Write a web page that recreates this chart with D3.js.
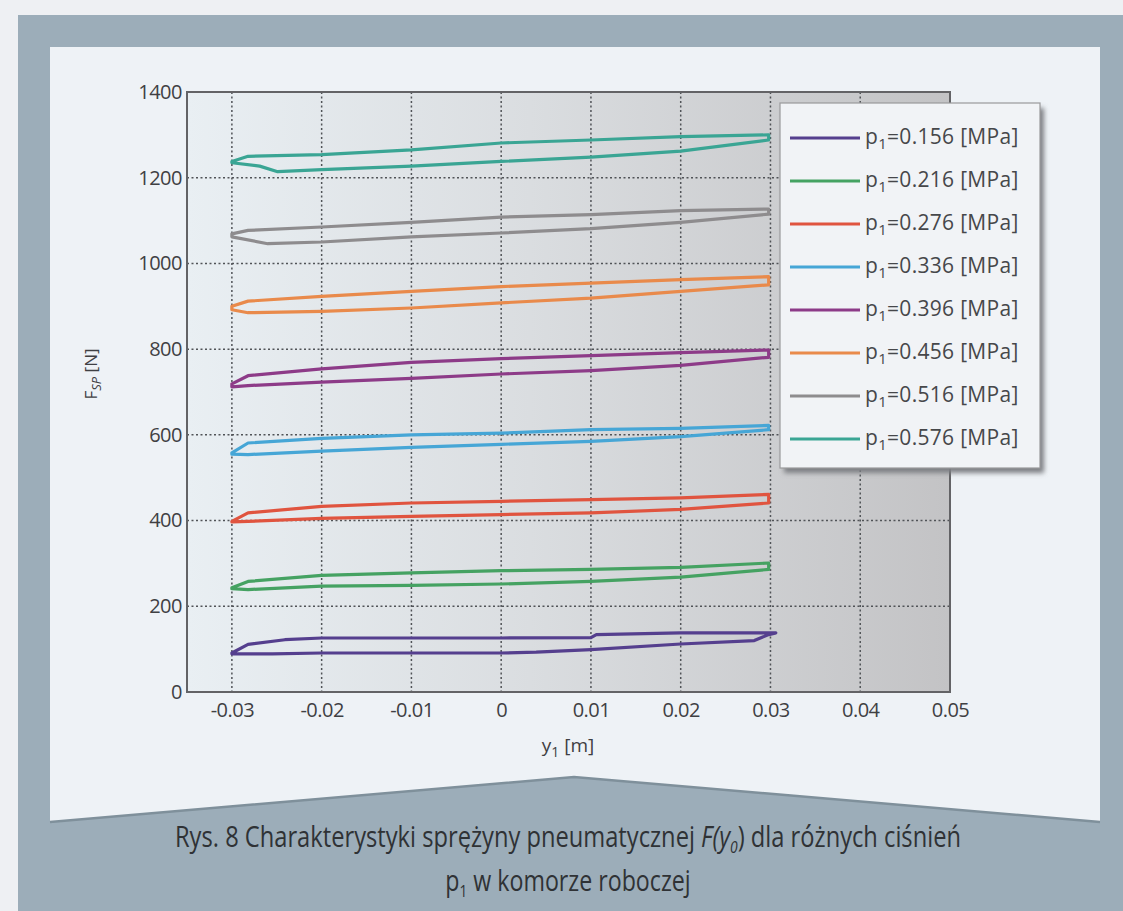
<!DOCTYPE html>
<html>
<head>
<meta charset="utf-8">
<script src="https://cdn.jsdelivr.net/npm/d3@7"></script>
<style>
  body { margin: 0; background: #eef0f3; }
  text { font-family: "Open Sans", "Noto Sans", sans-serif; }
</style>
</head>
<body>
<script>
// tick values
let xTicks = [-0.03, -0.02, -0.01, 0, 0.01, 0.02, 0.03, 0.04, 0.05];
let yTicks = [0, 200, 400, 600, 800, 1000, 1200, 1400];

// pressure for each loop (legend) and line colours
let pressures = ['0.156', '0.216', '0.276', '0.336', '0.396', '0.456', '0.516', '0.576'];
let colors = ['#553f8e', '#45a262', '#e0543f', '#46a6d6', '#8d3b88', '#e98a4b', '#8e8c8e', '#3aa594'];

// hysteresis loops [y1, F]: upper branch -> then back along the lower one
let loop156 = [[-0.03, 91], [-0.0282, 111], [-0.0241, 122], [-0.02, 126], [-0.01, 126], [0, 126], [0.01, 127],
  [0.0106, 134], [0.02, 138], [0.0282, 138], [0.0306, 138],
  [0.0298, 134], [0.0282, 120], [0.02, 112], [0.01, 99], [0.0039, 93], [0, 91], [-0.01, 91], [-0.02, 91],
  [-0.0255, 89], [-0.03, 89]];
let loop216 = [[-0.03, 243], [-0.0282, 258], [-0.02, 272], [-0.01, 278], [0, 283], [0.01, 286], [0.02, 291],
  [0.0298, 301],
  [0.0298, 286], [0.02, 268], [0.01, 258], [0, 252], [-0.01, 249], [-0.02, 247], [-0.0282, 239], [-0.03, 241]];
let loop276 = [[-0.03, 398], [-0.0282, 418], [-0.02, 433], [-0.01, 441], [0, 445], [0.01, 449], [0.02, 453],
  [0.0298, 461],
  [0.0298, 441], [0.02, 426], [0.01, 418], [0, 414], [-0.01, 410], [-0.02, 405], [-0.0282, 398], [-0.03, 397]];
let loop336 = [[-0.03, 558], [-0.0282, 581], [-0.02, 592], [-0.01, 600], [0, 604], [0.01, 612], [0.02, 615],
  [0.0298, 622],
  [0.0298, 612], [0.02, 596], [0.01, 585], [0, 578], [-0.01, 571], [-0.02, 562], [-0.0282, 554], [-0.03, 555]];
let loop396 = [[-0.03, 719], [-0.0282, 738], [-0.02, 754], [-0.01, 769], [0, 778], [0.01, 785], [0.02, 792],
  [0.0298, 798],
  [0.0298, 781], [0.02, 762], [0.01, 750], [0, 742], [-0.01, 732], [-0.02, 723], [-0.0282, 715], [-0.03, 712]];
let loop456 = [[-0.03, 900], [-0.0282, 912], [-0.02, 923], [-0.01, 935], [0, 946], [0.01, 954], [0.02, 962],
  [0.0298, 969],
  [0.0298, 950], [0.02, 935], [0.01, 919], [0, 908], [-0.01, 896], [-0.02, 888], [-0.0282, 885], [-0.03, 892]];
let loop516 = [[-0.03, 1069], [-0.0282, 1077], [-0.02, 1085], [-0.01, 1096], [0, 1108], [0.01, 1114], [0.02, 1123],
  [0.0298, 1127],
  [0.0298, 1115], [0.02, 1096], [0.01, 1081], [0, 1071], [-0.01, 1062], [-0.02, 1050], [-0.026, 1046], [-0.03, 1062]];
let loop576 = [[-0.03, 1238], [-0.0282, 1250], [-0.02, 1254], [-0.01, 1265], [0, 1281], [0.01, 1288], [0.02, 1296],
  [0.0298, 1300],
  [0.0298, 1288], [0.02, 1262], [0.01, 1248], [0, 1238], [-0.01, 1227], [-0.02, 1219], [-0.0249, 1214],
  [-0.0269, 1227], [-0.03, 1235]];

let loops = [loop156, loop216, loop276, loop336, loop396, loop456, loop516, loop576];

let w = 1123;
let h = 911;
let plotL = 187, plotR = 950, plotT = 92, plotB = 692; // plot box

let svg = d3.select('body')
  .append('svg')
  .attr('width', w)
  .attr('height', h);

let defs = svg.append('defs');

let grad = defs.append('linearGradient')
  .attr('id', 'plotBg')
  .attr('x1', '0%').attr('x2', '100%')
  .attr('y1', '0%').attr('y2', '0%');
grad.append('stop').attr('offset', '0%').attr('stop-color', '#e9eff3');
grad.append('stop').attr('offset', '45%').attr('stop-color', '#dadde0');
grad.append('stop').attr('offset', '100%').attr('stop-color', '#c3c3c5');

defs.append('filter')
  .attr('id', 'blur')
  .append('feGaussianBlur')
  .attr('stdDeviation', 2.5);

// page frame with the notched caption area
svg.append('rect')
  .attr('x', 18).attr('y', 15)
  .attr('width', w - 18).attr('height', h - 15)
  .attr('fill', '#9cadb9');

let panel = [[50, 47], [1100, 47], [1100, 822], [574, 777], [50, 822]];
svg.append('path')
  .attr('d', d3.line()(panel) + 'Z')
  .attr('fill', '#eef2f6');

svg.append('path')
  .attr('d', d3.line()([[50, 822], [574, 777], [1100, 822]]))
  .attr('fill', 'none')
  .attr('stroke', '#7f909b')
  .attr('stroke-width', 2.5);

// scales
let xScale = d3.scaleLinear()
  .domain([-0.035, 0.05])
  .range([plotL, plotR]);

let yScale = d3.scaleLinear()
  .domain([0, 1400])
  .range([plotB, plotT]);

svg.append('rect')
  .attr('x', plotL).attr('y', plotT)
  .attr('width', plotR - plotL).attr('height', plotB - plotT)
  .attr('fill', 'url(#plotBg)');

// dotted grid
let grid = svg.append('g').attr('stroke', '#505357').attr('stroke-width', 1.5).attr('stroke-dasharray', '2,2.5');

grid.selectAll('.vg')
  .data(xTicks)
  .enter()
  .append('line')
  .attr('x1', d => xScale(d)).attr('x2', d => xScale(d))
  .attr('y1', plotT).attr('y2', plotB);

grid.selectAll('.hg')
  .data(yTicks.slice(1, -1))
  .enter()
  .append('line')
  .attr('y1', d => yScale(d)).attr('y2', d => yScale(d))
  .attr('x1', plotL).attr('x2', plotR);

// axes
let xAxis = d3.axisBottom(xScale)
  .tickValues(xTicks)
  .tickSize(0)
  .tickPadding(11)
  .tickFormat(d => d === 0 ? '0' : d3.format('.2f')(d).replace('−', '-'));

let yAxis = d3.axisLeft(yScale)
  .tickValues(yTicks)
  .tickSize(0)
  .tickPadding(5)
  .tickFormat(d3.format('d'));

let gx = svg.append('g')
  .attr('transform', 'translate(0,' + plotB + ')')
  .call(xAxis);

let gy = svg.append('g')
  .attr('transform', 'translate(' + plotL + ',0)')
  .call(yAxis);

[gx, gy].forEach(g => {
  g.select('.domain').remove();
  g.selectAll('text')
    .attr('fill', '#3f4043')
    .style('font-size', '20px')
    .style('letter-spacing', '-0.5px');
});

svg.append('rect')
  .attr('x', plotL).attr('y', plotT)
  .attr('width', plotR - plotL).attr('height', plotB - plotT)
  .attr('fill', 'none')
  .attr('stroke', '#636366')
  .attr('stroke-width', 2);

// loops
let line = d3.line()
  .x(d => xScale(d[0]))
  .y(d => yScale(d[1]))
  .curve(d3.curveLinearClosed);

svg.append('g')
  .selectAll('path')
  .data(loops)
  .enter()
  .append('path')
  .attr('d', line)
  .attr('fill', 'none')
  .attr('stroke', (d, i) => colors[i])
  .attr('stroke-width', 3.2)
  .attr('stroke-linejoin', 'round');

// axis labels
let xl = svg.append('text')
  .attr('x', 568).attr('y', 752)
  .attr('text-anchor', 'middle')
  .attr('fill', '#3f4043')
  .style('font-size', '19px');
xl.append('tspan').text('y');
xl.append('tspan').attr('dy', 5).style('font-size', '14px').text('1');
xl.append('tspan').attr('dy', -5).text(' [m]');

let yl = svg.append('text')
  .attr('transform', 'translate(97,374) rotate(-90)')
  .attr('text-anchor', 'middle')
  .attr('fill', '#3f4043')
  .style('font-size', '17px');
yl.append('tspan').text('F');
yl.append('tspan').attr('dy', 4).style('font-size', '13px').style('font-style', 'italic').text('SP');
yl.append('tspan').attr('dy', -4).text(' [N]');

// legend
let lx = 780, ly = 103, lw = 260, lh = 365;
svg.append('rect')
  .attr('x', lx + 4).attr('y', ly + 5)
  .attr('width', lw).attr('height', lh)
  .attr('fill', '#7d7f83')
  .attr('filter', 'url(#blur)');
svg.append('rect')
  .attr('x', lx).attr('y', ly)
  .attr('width', lw).attr('height', lh)
  .attr('fill', '#f1f3f6')
  .attr('stroke', '#9a9a9c')
  .attr('stroke-width', 1.2);

let rowY = d3.scalePoint()
  .domain(pressures)
  .range([138, 439]);

let items = svg.append('g')
  .selectAll('g')
  .data(pressures)
  .enter()
  .append('g')
  .attr('transform', d => 'translate(0,' + rowY(d) + ')');

items.append('line')
  .attr('x1', 790).attr('x2', 860)
  .attr('stroke', (d, i) => colors[i])
  .attr('stroke-width', 3.2);

let lt = items.append('text')
  .attr('x', 865).attr('y', 6)
  .attr('fill', '#46474a')
  .style('font-size', '21px')
  .style('letter-spacing', '0.3px');
lt.append('tspan').text('p');
lt.append('tspan').attr('dy', 5).style('font-size', '15px').text('1');
lt.append('tspan').attr('dy', -5).text(d => '=' + d + ' [MPa]');

// caption, squeezed horizontally for the condensed look
let cap = svg.append('g')
  .attr('fill', '#2f3235')
  .style('font-size', '29px');

let c1 = cap.append('text')
  .attr('transform', 'translate(568,847) scale(0.817,1)')
  .attr('text-anchor', 'middle');
c1.append('tspan').text('Rys. 8 Charakterystyki sprężyny pneumatycznej ');
c1.append('tspan').style('font-style', 'italic').text('F(y');
c1.append('tspan').attr('dy', 6).style('font-size', '17px').style('font-style', 'italic').text('0');
c1.append('tspan').attr('dy', -6).text(') dla różnych ciśnień');

let c2 = cap.append('text')
  .attr('transform', 'translate(568,891) scale(0.8,1)')
  .attr('text-anchor', 'middle');
c2.append('tspan').text('p');
c2.append('tspan').attr('dy', 6).style('font-size', '17px').text('1');
c2.append('tspan').attr('dy', -6).text(' w komorze roboczej');
</script>
</body>
</html>
